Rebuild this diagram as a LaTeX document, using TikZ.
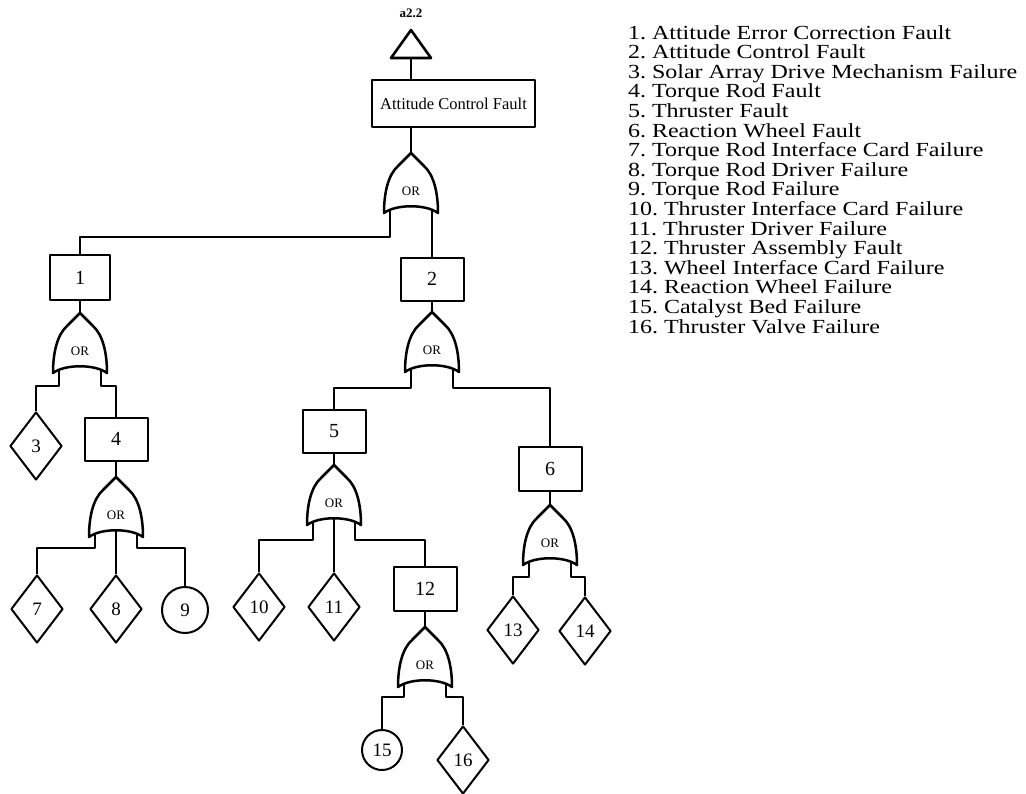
\documentclass[tikz,border=0pt]{standalone}
\usepackage{fontspec}
\setmainfont{Liberation Serif}
\newfontfamily\legendfont[FakeStretch=1.2]{Liberation Serif}
\usetikzlibrary{shapes.geometric}
\begin{document}
\begin{tikzpicture}[x=1pt,y=-1pt,line width=2pt,line join=round,
  event/.style={draw,rectangle,minimum width=63pt,minimum height=43pt,inner sep=0pt,
    font=\fontsize{20}{20}\selectfont},
  undev/.style={draw,diamond,minimum width=52pt,minimum height=68pt,inner sep=0pt,
    font=\fontsize{19}{19}\selectfont},
  basic/.style={draw,circle,inner sep=0pt,font=\fontsize{19}{19}\selectfont},
  legend/.style={anchor=base west,inner sep=0pt,font=\legendfont\fontsize{20}{20}\selectfont},
  pics/orgate/.style={code={
    \draw[line width=2.5pt] (0,0) -- (-13,13) .. controls (-23,22) and (-27,40) .. (-27,60)
      .. controls (-15,51) and (15,51) .. (27,60)
      .. controls (27,40) and (23,22) .. (13,13) -- cycle;
    \node[font=\fontsize{13}{13}\selectfont,inner sep=0pt] (-lab) at (0,38) {OR};
    \coordinate (-in) at (0,0);
    \coordinate (-l) at (-21,56.6);
    \coordinate (-c) at (0,53.3);
    \coordinate (-r) at (21,56.6);
  }}]
\useasboundingbox (0,0) rectangle (1026,793);

% transfer triangle
\draw[line width=2.6pt] (411,30) -- (431,58) -- (391,58) -- cycle;
\coordinate (tri-base) at (411,58);
\node[font=\fontsize{13}{13}\selectfont\bfseries] (tag) at (411,13) {a2.2};

% events
\node[event,minimum width=163pt,minimum height=47pt,font=\fontsize{16.5}{16.5}\selectfont]
  (top) at (453.5,103.5) {Attitude Control Fault};
\node[event,minimum width=60pt,minimum height=45pt] (e1) at (80,277.5) {1};
\node[event] (e2) at (432,279) {2};
\node[event] (e4) at (116,439) {4};
\node[event] (e5) at (334,431) {5};
\node[event,minimum height=44pt] (e6) at (550,469) {6};
\node[event,minimum height=44pt] (e12) at (425,589) {12};

% undeveloped events
\node[undev] (d3) at (36,446) {3};
\node[undev] (d7) at (37,609) {7};
\node[undev] (d8) at (116,609) {8};
\node[undev] (d10) at (259,607) {10};
\node[undev] (d11) at (334,607) {11};
\node[undev] (d13) at (513,630) {13};
\node[undev] (d14) at (585,631) {14};
\node[undev] (d16) at (463,760) {16};

% basic events
\node[basic,minimum size=46pt] (c9) at (185,610) {9};
\node[basic,minimum size=40pt] (c15) at (382,750) {15};

% OR gates
\pic (g0) at (411,153) {orgate};
\pic (g1) at (80,313) {orgate};
\pic (g4) at (116,477) {orgate};
\pic (g2) at (432,312) {orgate};
\pic (g5) at (334,465) {orgate};
\pic (g12) at (425,627) {orgate};
\pic (g6) at (550,505) {orgate};

% connectors
\draw (tri-base) -- (tri-base |- top.north);
\draw (g0-in |- top.south) -- (g0-in);
\draw (g0-l) -- ++(0,27) -| (e1.north);
\draw (g0-r) -- (e2.north);
\draw (e1.south) -- (g1-in);
\draw (g1-l) -- ++(0,16) -| (d3.north);
\draw (g1-r) -- ++(0,16) -| (e4.north);
\draw (e4.south) -- (g4-in);
\draw (g4-l) -- ++(0,14) -| (d7.north);
\draw (g4-c) -- (d8.north);
\draw (g4-r) -- ++(0,14) -| (c9.north);
\draw (e2.south) -- (g2-in);
\draw (g2-l) -- ++(0,19) -| (e5.north);
\draw (g2-r) -- ++(0,19) -| (e6.north);
\draw (e5.south) -- (g5-in);
\draw (g5-l) -- ++(0,18) -| (d10.north);
\draw (g5-c) -- (d11.north);
\draw (g5-r) -- ++(0,18) -| (e12.north);
\draw (e12.south) -- (g12-in);
\draw (g12-l) -- ++(0,13) -| (c15.north);
\draw (g12-r) -- ++(0,13) -| (d16.north);
\draw (e6.south) -- (g6-in);
\draw (g6-l) -- ++(0,15) -| (d13.north);
\draw (g6-r) -- ++(0,15) -| (d14.north);

% legend
\foreach \t [count=\i] in {Attitude Error Correction Fault,Attitude Control Fault,
  Solar Array Drive Mechanism Failure,Torque Rod Fault,Thruster Fault,Reaction Wheel Fault,
  Torque Rod Interface Card Failure,Torque Rod Driver Failure,Torque Rod Failure,
  Thruster Interface Card Failure,Thruster Driver Failure,Thruster Assembly Fault,
  Wheel Interface Card Failure,Reaction Wheel Failure,Catalyst Bed Failure,Thruster Valve Failure}
  \node[legend] (k\i) at (627,{39+19.6*(\i-1)}) {\i.\ \t};
\end{tikzpicture}
\end{document}
